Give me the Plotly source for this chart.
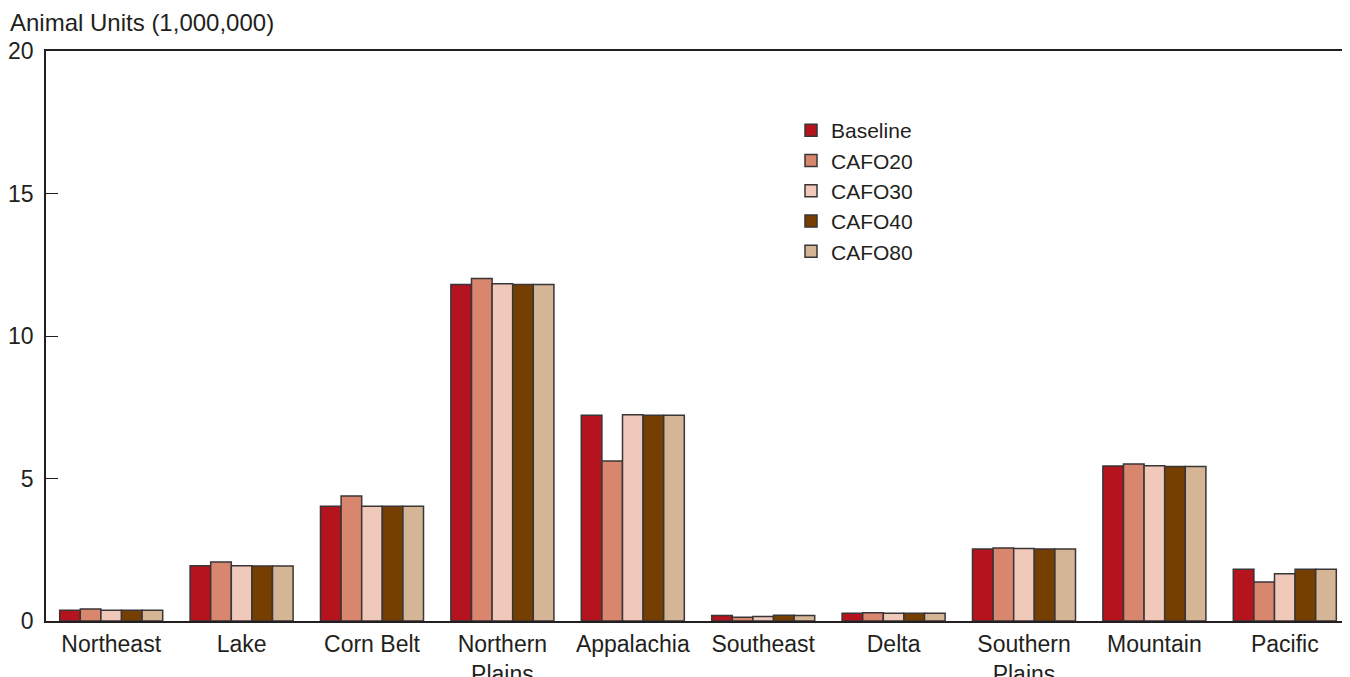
import plotly.graph_objects as go

regions = ["Northeast", "Lake", "Corn Belt", "Northern<br>Plains", "Appalachia",
           "Southeast", "Delta", "Southern<br>Plains", "Mountain", "Pacific"]
series_names = ["Baseline", "CAFO20", "CAFO30", "CAFO40", "CAFO80"]
baseline = [0.38, 1.94, 4.03, 11.81, 7.22, 0.19, 0.27, 2.53, 5.44, 1.82]
cafo20 = [0.42, 2.07, 4.39, 12.02, 5.61, 0.13, 0.29, 2.56, 5.51, 1.37]
cafo30 = [0.38, 1.94, 4.03, 11.83, 7.24, 0.16, 0.27, 2.54, 5.45, 1.66]
cafo40 = [0.38, 1.93, 4.03, 11.81, 7.22, 0.20, 0.27, 2.53, 5.42, 1.82]
cafo80 = [0.38, 1.93, 4.03, 11.81, 7.22, 0.19, 0.27, 2.53, 5.42, 1.82]
y_ticks = [0, 5, 10, 15, 20]

colors = ["#B5131E", "#D8866D", "#F0C9BA", "#743F00", "#D4B596"]
values = [baseline, cafo20, cafo30, cafo40, cafo80]

fig = go.Figure()
for name, vals, col in zip(series_names, values, colors):
    fig.add_trace(go.Bar(
        x=regions, y=vals, name=name,
        marker=dict(color=col, line=dict(color="#3a3536", width=1.5)),
    ))

font = "Liberation Sans, Arial, sans-serif"
txt = "#231f20"
OFF = 8  # browser body margin
W, H = 1350 - OFF, 677 - OFF
L, R, T, B = 46 - OFF, 1350 - OFF, 51 - OFF, 621 - OFF
fig.update_layout(
    width=W, height=H,
    margin=dict(l=L, r=W - R, t=T, b=H - B, autoexpand=False),
    paper_bgcolor="white", plot_bgcolor="white",
    barmode="group", bargap=0.21, bargroupgap=0,
    font=dict(family=font, size=23, color=txt),
    legend=dict(x=(791 - OFF - L) / (R - L), y=(B - (110 - OFF)) / (B - T),
                xanchor="left", yanchor="top",
                font=dict(size=21, family=font, color=txt),
                tracegroupgap=0, itemwidth=30, bgcolor="rgba(0,0,0,0)"),
    showlegend=True,
    annotations=[dict(text="Animal Units (1,000,000)", xref="paper", yref="paper",
                      x=(0 - L) / (R - L), y=(B - (22 - OFF)) / (B - T), xanchor="left",
                      yanchor="middle", showarrow=False,
                      font=dict(size=24, family=font, color=txt))],
)
fig.update_xaxes(showline=True, linecolor=txt, linewidth=1.5, mirror=True,
                 ticks="", showgrid=False, tickfont=dict(size=23), automargin=False,
                 ticklabelstandoff=2)
fig.update_yaxes(range=[0, 20], tickvals=y_ticks, showline=True, linecolor=txt,
                 linewidth=1.5, ticks="inside", ticklen=12, tickcolor=txt,
                 showgrid=False, zeroline=False, tickfont=dict(size=23), automargin=False,
                 ticklabelstandoff=6)
fig.write_html("out.html")
